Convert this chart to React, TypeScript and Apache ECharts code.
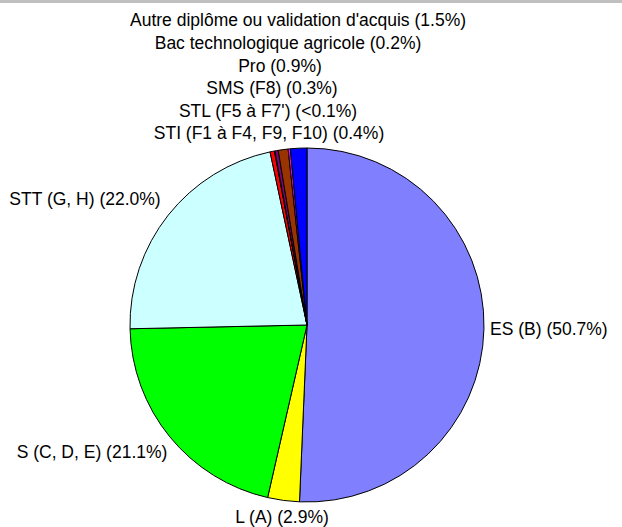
import React, { useEffect, useRef } from "react";
import * as echarts from "echarts";

const categories = [
  "ES (B)",
  "L (A)",
  "S (C, D, E)",
  "STT (G, H)",
  "STI (F1 à F4, F9, F10)",
  "STL (F5 à F7')",
  "SMS (F8)",
  "Pro",
  "Bac technologique agricole",
  "Autre diplôme ou validation d'acquis",
];
const values = [50.7, 2.9, 21.1, 22.0, 0.4, 0.05, 0.3, 0.9, 0.2, 1.5];
const colors = [
  "#8080ff",
  "#ffff00",
  "#00ff00",
  "#ccffff",
  "#ff0000",
  "#000080",
  "#800080",
  "#993300",
  "#ff00ff",
  "#0000ff",
];

// label anchor positions (layout only)
const labelPos: [number, number, string][] = [
  [490, 329, "left"],
  [282, 517, "center"],
  [92, 452, "center"],
  [85, 199, "center"],
  [269, 133, "center"],
  [268, 111, "center"],
  [272, 88, "center"],
  [280, 66, "center"],
  [288, 43, "center"],
  [298, 20, "center"],
];

function pct(v: number) {
  return v < 0.1 ? "<0.1%" : v.toFixed(1) + "%";
}

export default function App() {
  const ref = useRef<HTMLDivElement>(null);
  useEffect(() => {
    const chart = echarts.init(ref.current!, null, { renderer: "svg" });
    chart.setOption({
      animation: false,
      backgroundColor: "#ffffff",
      graphic: [
        {
          type: "rect",
          shape: { x: 0, y: 0, width: 622, height: 3 },
          style: { fill: "#c0c0c0" },
          silent: true,
        },
      ],
      series: [
        {
          type: "pie",
          center: [307, 325],
          radius: [0, 177],
          startAngle: 90,
          clockwise: true,
          minAngle: 0,
          avoidLabelOverlap: false,
          itemStyle: { borderColor: "#000000", borderWidth: 1 },
          emphasis: { disabled: true },
          labelLine: { show: false },
          label: {
            show: true,
            position: "outside",
            fontFamily: "'Liberation Sans', Arial, sans-serif",
            fontSize: 17.5,
            color: "#000000",
            formatter: (p: any) => p.name + " (" + pct(p.value) + ")",
          },
          labelLayout: (params: any) => {
            const lp = labelPos[params.dataIndex];
            return {
              x: lp[0],
              y: lp[1],
              align: lp[2],
              verticalAlign: "middle",
            };
          },
          data: categories.map((c, i) => ({
            name: c,
            value: values[i],
            itemStyle: { color: colors[i] },
          })),
        },
      ],
    });
    return () => chart.dispose();
  }, []);
  return (
    <div
      ref={ref}
      style={{ position: "fixed", left: 0, top: 0, width: 622, height: 527 }}
    />
  );
}
